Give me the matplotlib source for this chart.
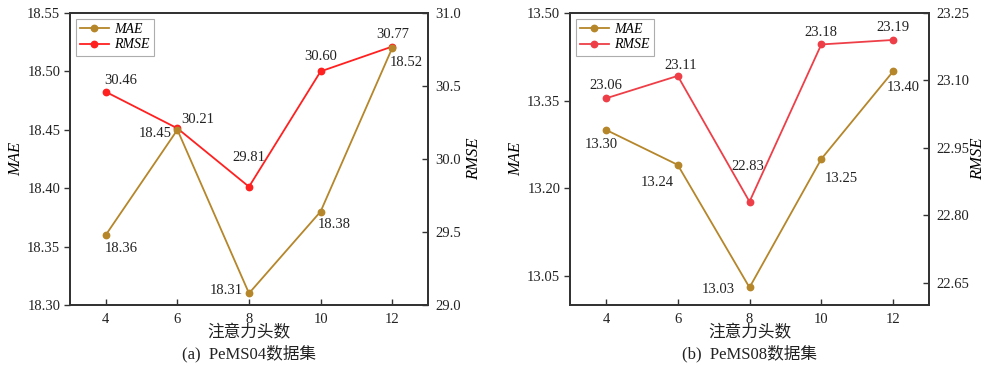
import matplotlib
matplotlib.use("Agg")
import matplotlib.pyplot as plt
from matplotlib.lines import Line2D

plt.rcParams['font.family'] = ['Liberation Serif', 'Noto Sans CJK SC', 'DejaVu Sans']
plt.rcParams['mathtext.fontset'] = 'stix'

heads = [4, 6, 8, 10, 12]
x_ticks = [4, 6, 8, 10, 12]

mae_04 = [18.36, 18.45, 18.31, 18.38, 18.52]
rmse_04 = [30.46, 30.21, 29.81, 30.60, 30.77]
mae_08 = [13.30, 13.24, 13.03, 13.25, 13.40]
rmse_08 = [23.06, 23.11, 22.83, 23.18, 23.19]

mae_ticks_04 = [18.30, 18.35, 18.40, 18.45, 18.50, 18.55]
rmse_ticks_04 = [29.0, 29.5, 30.0, 30.5, 31.0]
mae_ticks_08 = [13.05, 13.20, 13.35, 13.50]
rmse_ticks_08 = [22.65, 22.80, 22.95, 23.10, 23.25]

xlabel_text = "注意力头数"
subtitles = ["(a)  PeMS04数据集", "(b)  PeMS08数据集"]

# label offsets in pixels (dx, dy) relative to markers
mae_off_04 = [(15, -14), (-22, -4), (-23, 3), (14, -13), (14, -14)]
rmse_off_04 = [(15, 11), (20, 9), (0, 29), (0, 15), (0, 12)]
mae_off_08 = [(-5, -15), (-20, -18), (-31, -2), (20, -20), (10, -16)]
rmse_off_08 = [(0, 13), (3, 10), (-2, 35), (0, 12), (0, 12)]

MAE_C = '#B5862A'
RMSE_C_A = '#FF2020'
RMSE_C_B = '#EE3F48'
SPINE = '#333333'

W, H = 986, 366
fig = plt.figure(figsize=(W / 100, H / 100), dpi=100)

panels = [
    dict(left=70, right=428, mae=mae_04, rmse=rmse_04, mlim=(18.30, 18.55), rlim=(29.0, 31.0),
         mt=mae_ticks_04, rt=rmse_ticks_04, mfmt="{:.2f}", rfmt="{:.1f}",
         moff=mae_off_04, roff=rmse_off_04, rc=RMSE_C_A, sub=subtitles[0], rpad=4),
    dict(left=570, right=929, mae=mae_08, rmse=rmse_08, mlim=(13.0, 13.5), rlim=(22.6, 23.25),
         mt=mae_ticks_08, rt=rmse_ticks_08, mfmt="{:.2f}", rfmt="{:.2f}",
         moff=mae_off_08, roff=rmse_off_08, rc=RMSE_C_B, sub=subtitles[1], rpad=1),
]

top_px, bot_px = 13, 305
fs_tick = 10.5
fs_ann = 10.5
MS = 4.6

for p in panels:
    ax = fig.add_axes([p['left'] / W, (H - bot_px) / H, (p['right'] - p['left']) / W, (bot_px - top_px) / H])
    ax2 = ax.twinx()
    ax.set_zorder(ax2.get_zorder() + 1)
    ax.patch.set_visible(False)

    ax.plot(heads, p['mae'], color=MAE_C, lw=1.3, marker='o', ms=MS,
            markerfacecolor=MAE_C, markeredgecolor=MAE_C, zorder=3)
    ax2.plot(heads, p['rmse'], color=p['rc'], lw=1.3, marker='o', ms=MS,
             markerfacecolor=p['rc'], markeredgecolor=p['rc'], zorder=3)

    ax.set_xlim(3, 13)
    ax.set_xticks(x_ticks)
    ax.set_ylim(*p['mlim'])
    ax.set_yticks(p['mt'])
    ax.set_yticklabels([p['mfmt'].format(v) for v in p['mt']])
    ax2.set_ylim(*p['rlim'])
    ax2.set_yticks(p['rt'])
    ax2.set_yticklabels([p['rfmt'].format(v) for v in p['rt']])

    ax.tick_params(axis='x', direction='in', length=4, width=1, colors=SPINE, labelsize=fs_tick, pad=6, labelcolor='#222222')
    ax.tick_params(axis='y', direction='out', length=4, width=1, colors=SPINE, labelsize=fs_tick, pad=3, labelcolor='#222222')
    ax2.tick_params(axis='y', direction='in', length=4, width=1, colors=SPINE, labelsize=fs_tick, pad=5, labelcolor='#222222')

    for a in (ax, ax2):
        for s in a.spines.values():
            s.set_color(SPINE)
            s.set_linewidth(1.3)

    ax.set_ylabel('MAE', fontstyle='italic', fontsize=12, labelpad=2)
    ax2.set_ylabel('RMSE', fontstyle='italic', fontsize=12, labelpad=p['rpad'])

    for xv, yv, (dx, dy) in zip(heads, p['mae'], p['moff']):
        ax.annotate(f"{yv:.2f}", (xv, yv), xytext=(dx, dy), textcoords='offset pixels',
                    ha='center', va='center', fontsize=fs_ann, color='#222222', zorder=5)
    for xv, yv, (dx, dy) in zip(heads, p['rmse'], p['roff']):
        ax2.annotate(f"{yv:.2f}", (xv, yv), xytext=(dx, dy), textcoords='offset pixels',
                     ha='center', va='center', fontsize=fs_ann, color='#222222', zorder=5)

    handles = [
        Line2D([], [], color=MAE_C, lw=1.3, marker='o', ms=MS),
        Line2D([], [], color=p['rc'], lw=1.3, marker='o', ms=MS),
    ]
    leg = ax.legend(handles, ['MAE', 'RMSE'], loc='upper left', frameon=True, fancybox=False,
                    prop={'style': 'italic', 'size': 10}, handlelength=2.1, borderpad=0.3,
                    labelspacing=0.2, handletextpad=0.4, borderaxespad=0.4)
    leg.get_frame().set_edgecolor('#999999')
    leg.get_frame().set_linewidth(0.8)

    cx = (p['left'] + p['right']) / 2 / W
    fig.text(cx, 1 - 333 / H, xlabel_text, ha='center', va='center', fontsize=12, color='#222222')
    fig.text(cx, 1 - 354 / H, p['sub'], ha='center', va='center', fontsize=12, color='#222222')

fig.savefig('out.png', dpi=100)
